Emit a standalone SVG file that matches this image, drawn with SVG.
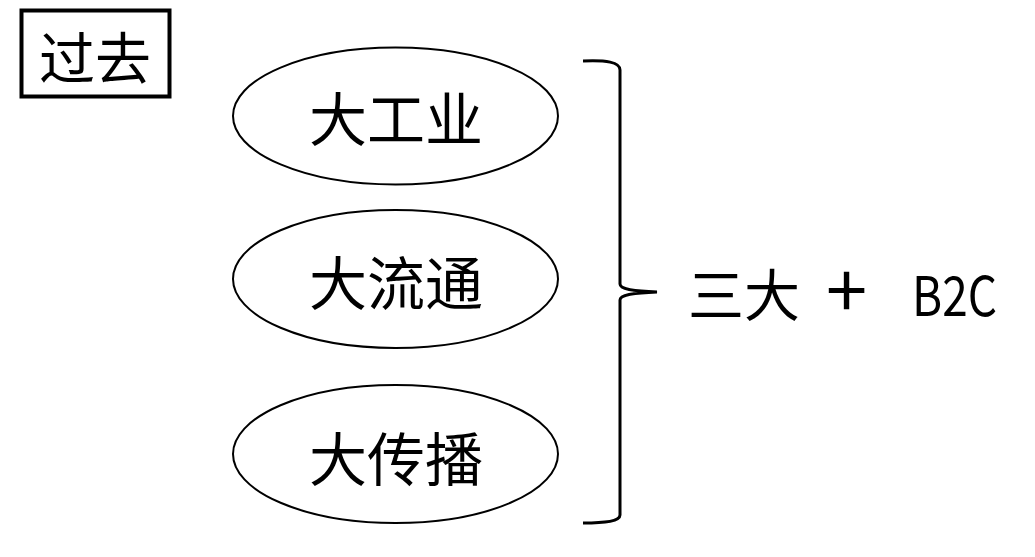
<svg xmlns="http://www.w3.org/2000/svg" width="1035" height="557" viewBox="0 0 1035 557">
<style>
.t{font-family:"Noto Sans CJK SC","Noto Sans",sans-serif;fill:#000}
.el{fill:#fff;stroke:#000;stroke-width:2}
</style>
<rect width="1035" height="557" fill="#fff"/>
<g id="past">
<rect x="21.5" y="10.5" width="148" height="86" fill="#fff" stroke="#000" stroke-width="4"/>
<text class="t" x="95" y="79" font-size="56" text-anchor="middle">过去</text>
</g>
<g id="n1">
<ellipse class="el" cx="395.5" cy="116" rx="162.5" ry="68.5"/>
<text class="t" x="396" y="141" font-size="58" text-anchor="middle">大工业</text>
</g>
<g id="n2">
<ellipse class="el" cx="395.5" cy="279" rx="162.5" ry="69"/>
<text class="t" x="396" y="305" font-size="58" text-anchor="middle">大流通</text>
</g>
<g id="n3">
<ellipse class="el" cx="395.5" cy="454" rx="162.5" ry="69"/>
<text class="t" x="396" y="481" font-size="58" text-anchor="middle">大传播</text>
</g>
<g id="connectors">
<path d="M583,61 C606,60 620,62 620,70 L620,284 C620,289 632,291 657,292 C632,293 620,295 620,300 L620,515 C620,521 606,523 583,523" fill="none" stroke="#000" stroke-width="3"/>
</g>
<g id="result">
<text class="t" y="316" font-size="56"><tspan x="688">三大</tspan><tspan x="826" y="318" font-size="74">+</tspan><tspan x="912" y="316" textLength="85" lengthAdjust="spacingAndGlyphs" font-size="55">B2C</tspan></text>
</g>
</svg>
